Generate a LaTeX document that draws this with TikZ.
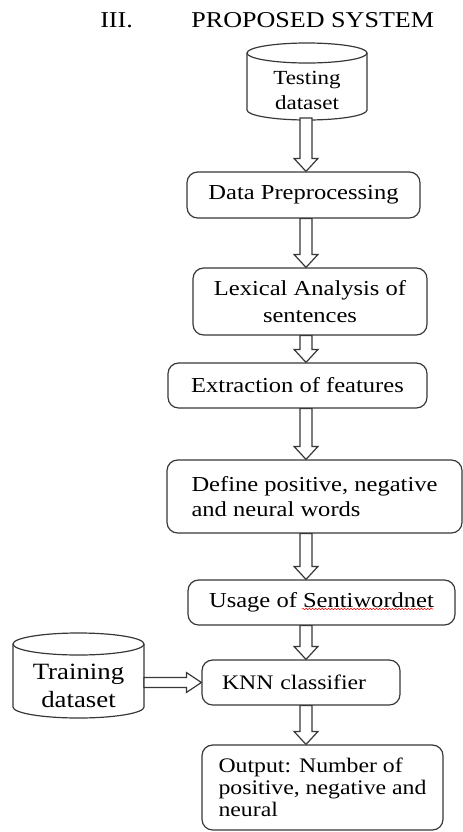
\documentclass[tikz,border=0pt]{standalone}
\usepackage{fontspec}
\setmainfont[FakeStretch=1.15]{Liberation Serif}
\usetikzlibrary{calc,decorations.pathmorphing}
\newcommand\vblock[2]{\draw[barrow] let \p1=(#1), \p2=(#2) in
  (\x1-4.5pt,\y1) -- (\x1-4.5pt,\y2+9.75pt) -- (\x1-9pt,\y2+9.75pt) -- (\x2,\y2)
  -- (\x1+9pt,\y2+9.75pt) -- (\x1+4.5pt,\y2+9.75pt) -- (\x1+4.5pt,\y1) -- cycle;}
\begin{document}
\begin{tikzpicture}[x=0.75pt,y=-0.75pt,
  box/.style={draw=black!78, line width=0.9pt, rounded corners=8pt, inner sep=0pt,
    font=\fontsize{16}{19}\selectfont},
  cyl/.style={draw=black!78, line width=0.9pt},
  barrow/.style={draw=black!78, line width=0.9pt, fill=white}]
\useasboundingbox (0,0) rectangle (463,832);

\node[anchor=base west, font=\fontsize{17}{20}\selectfont, inner sep=0pt] (title) at (100,27)
  {III.\hspace{44pt}PROPOSED SYSTEM};

% Testing dataset cylinder
\draw[cyl] (307,53) ellipse [x radius=45pt, y radius=7.5pt];
\draw[cyl] (247,53) -- (247,110) arc[start angle=180,end angle=360,x radius=45pt,y radius=7.5pt] -- (367,53);
\node[font=\fontsize{15}{18.75}\selectfont, align=center, inner sep=0pt] (test) at (307,90.5) {Testing\\dataset};
\coordinate (testbot) at (306,118);

% Training dataset cylinder
\draw[cyl] (78.5,644) ellipse [x radius=49.125pt, y radius=8.25pt];
\draw[cyl] (13,644) -- (13,707) arc[start angle=180,end angle=360,x radius=49.125pt,y radius=8.25pt] -- (144,644);
\node[font=\fontsize{17.5}{21}\selectfont, align=center, inner sep=0pt] (train) at (78.5,686) {Training\\dataset};
\coordinate (trainR) at (144,683);

% process boxes
\node[box, minimum width=174.75pt, minimum height=34.5pt] (data) at (303.5,195) {Data Preprocessing};
\node[box, minimum width=175.5pt, minimum height=50.25pt, align=center, font=\fontsize{16}{20.25}\selectfont] (lex) at (310,301.5) {Lexical Analysis of\\sentences};
\node[box, minimum width=194.25pt, minimum height=33.75pt] (ext) at (297.5,385.5) {Extraction of features};
\node[box, minimum width=221.25pt, minimum height=54.75pt, align=left, font=\fontsize{16}{18.75}\selectfont] (def) at (314.5,496.5) {Define positive, negative\\and neural words};
\node[box, minimum width=200.25pt, minimum height=33.75pt] (use) at (321.5,602.5) {Usage of Sentiwordnet};
\node[box, minimum width=148.5pt, minimum height=33.75pt, text width=118.5pt, align=left, font=\fontsize{15.5}{18}\selectfont] (knn) at (301,682.5) {KNN classifier};
\node[box, minimum width=180.75pt, minimum height=63.75pt, align=left, font=\fontsize{15.5}{16.5}\selectfont] (out) at (322.5,787.5) {Output: Number of\\positive, negative and\\neural};

% spell-check underline
\draw[red, line width=0.4pt, decorate, decoration={snake, amplitude=0.5pt, segment length=2.4pt}] (302,609) -- (433,609);

% arrows
\coordinate (ax) at (306,0);
\vblock{testbot}{ax |- data.north}
\vblock{ax |- data.south}{ax |- lex.north}
\vblock{ax |- lex.south}{ax |- ext.north}
\vblock{ax |- ext.south}{ax |- def.north}
\vblock{ax |- def.south}{ax |- use.north}
\vblock{ax |- use.south}{ax |- knn.north}
\vblock{ax |- knn.south}{ax |- out.north}
\draw[barrow] let \p1=(trainR), \p2=(knn.west) in
  (\x1,\y2+3.75pt) -- (\x2-11.25pt,\y2+3.75pt) -- (\x2-11.25pt,\y2+7.5pt) -- (\x2,\y2)
  -- (\x2-11.25pt,\y2-7.5pt) -- (\x2-11.25pt,\y2-3.75pt) -- (\x1,\y2-3.75pt) -- cycle;
\end{tikzpicture}
\end{document}
